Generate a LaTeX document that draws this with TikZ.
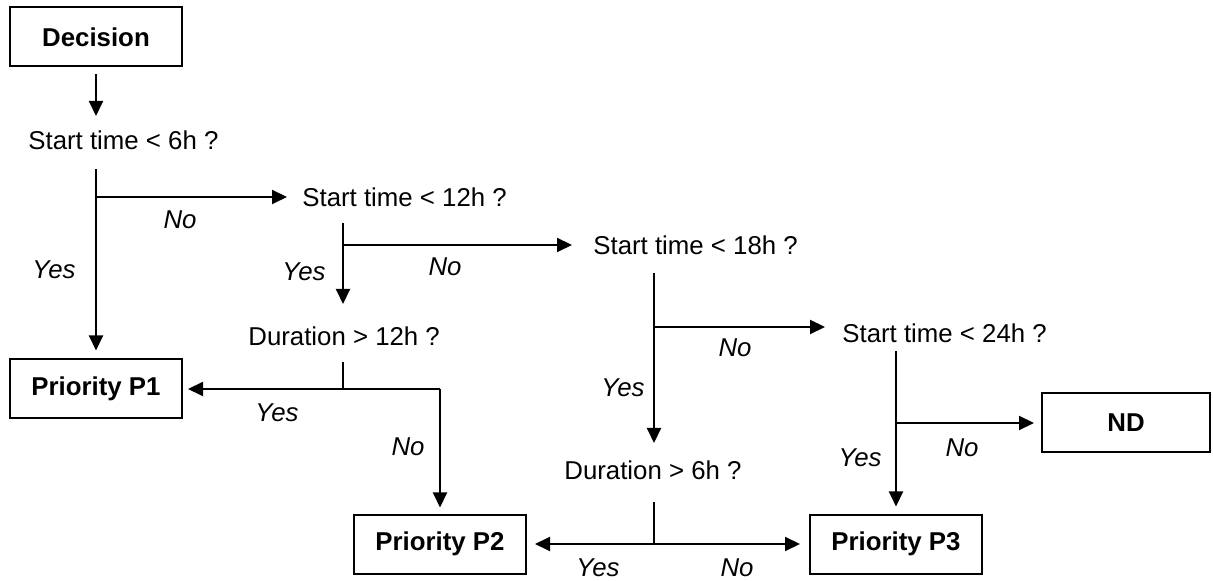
\documentclass[tikz,border=0pt]{standalone}
\usepackage{fontspec}
\setmainfont{Liberation Sans}
\usetikzlibrary{arrows.meta}

\begin{document}
\begin{tikzpicture}[x=0.5pt,y=-0.5pt]
      \tikzstyle{every node}=[font=\fontsize{12.9}{15}\selectfont]
      \tikzstyle{box}=[draw,line width=1pt,minimum width=86pt,minimum height=29.5pt,font=\fontsize{12.9}{15}\selectfont\bfseries]
      \tikzstyle{ask}=[anchor=west,inner sep=0pt]
      \tikzstyle{lbl}=[font=\fontsize{12.9}{15}\selectfont\itshape]
      \tikzstyle{stem}=[line width=1pt]
      \tikzstyle{arr}=[stem,-{Triangle[length=7.5pt,width=7pt]},shorten >=4pt]
      \useasboundingbox (0,0) rectangle (1213,581);
      % outcomes
      \node[box] (dec) at (96,37) {Decision};
      \node[box] (p1) at (96,389) {Priority P1};
      \node[box] (p2) at (440,544) {Priority P2};
      \node[box] (p3) at (896,544) {Priority P3};
      \node[box,minimum width=84pt] (nd) at (1126,423) {ND};
      % tests
      \node[ask] (q1) at (28,140) {Start time < 6h ?};
      \node[ask] (q2) at (302,197) {Start time < 12h ?};
      \node[ask] (q3) at (593,245) {Start time < 18h ?};
      \node[ask] (q4) at (842,333) {Start time < 24h ?};
      \node[ask] (d1) at (248,336) {Duration > 12h ?};
      \node[ask] (d2) at (564,470) {Duration > 6h ?};
      % junctions
      \coordinate (q1in) at (96,116);
      \coordinate (j1) at (96,169);
      \coordinate (j1b) at (96,197);
      \coordinate (j2) at (343,223);
      \coordinate (j2b) at (343,245);
      \coordinate (d1in) at (343,312);
      \coordinate (j3) at (343,362);
      \coordinate (j3b) at (343,389);
      \coordinate (j3c) at (440,389);
      \coordinate (j4) at (654,273);
      \coordinate (j4b) at (654,327);
      \coordinate (d2in) at (654,451);
      \coordinate (j5) at (654,502);
      \coordinate (j5b) at (654,544);
      \coordinate (j6) at (896,351);
      \coordinate (j6b) at (896,423);
      % connectors
      \draw[arr,shorten <=3.5pt,shorten >=0pt] (dec.south) -- (q1in);
      \draw[arr] (j1) -- (p1.north);
      \draw[arr,shorten >=7.5pt] (j1b) -- (j1b -| q2.west);
      \draw[arr] (j2) -- (d1in);
      \draw[arr,shorten >=10.5pt] (j2b) -- (j2b -| q3.west);
      \draw[stem] (j3) -- (j3b);
      \draw[arr,shorten >=2.5pt] (j3c) -- (j3c -| p1.east);
      \draw[arr,shorten >=3pt] (j3c) -- (p2.north);
      \draw[arr] (j4) -- (d2in);
      \draw[arr,shorten >=8.5pt] (j4b) -- (j4b -| q4.west);
      \draw[stem] (j5) -- (j5b);
      \draw[arr] (j5b) -- (j5b -| p2.east);
      \draw[arr,shorten >=4.5pt] (j5b) -- (j5b -| p3.west);
      \draw[arr,shorten >=3.5pt] (j6) -- (p3.north);
      \draw[arr,shorten >=3.5pt] (j6b) -- (j6b -| nd.west);
      % answers
      \node[lbl] (l1) at (180,220) {No};
      \node[lbl] (l2) at (54,270) {Yes};
      \node[lbl] (l3) at (304,272) {Yes};
      \node[lbl] (l4) at (445,267) {No};
      \node[lbl] (l5) at (277,413) {Yes};
      \node[lbl] (l6) at (408,447) {No};
      \node[lbl] (l7) at (735,348) {No};
      \node[lbl] (l8) at (623,388) {Yes};
      \node[lbl] (l9) at (598,568) {Yes};
      \node[lbl] (l10) at (737,568) {No};
      \node[lbl] (l11) at (860,458) {Yes};
      \node[lbl] (l12) at (962,448) {No};
\end{tikzpicture}
\end{document}
